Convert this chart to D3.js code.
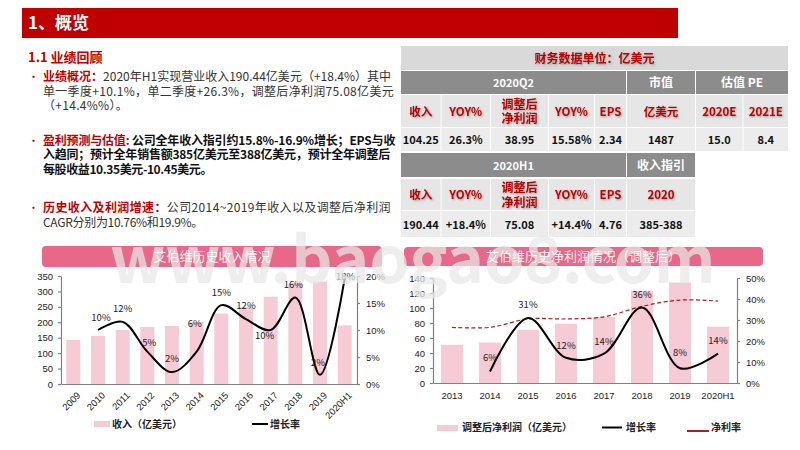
<!DOCTYPE html>
<html>
  <head>
    <meta charset="utf-8" />
    <script src="https://d3js.org/d3.v7.min.js"></script>
    <style>
html, body { margin: 0; padding: 0; background: #fff; }
svg { display: block; }
text { font-family: "Noto Sans CJK SC", "Noto Sans", sans-serif; }
.axis path, .axis line { stroke: #808080; stroke-width: 1.2px; }
.axis text { font-family: "Liberation Sans", sans-serif; font-size: 9.5px; fill: #222; }
.shadow { filter: drop-shadow(1px 1px 1px #999); }
    </style>
  </head>
  <body>
<div id="content"></div>
    <script>
// revenue chart
let revCats = ["2009","2010","2011","2012","2013","2014","2015","2016","2017","2018","2019","2020H1"];
let revValues = [143,156,175,185,188,201,228,250,283,327,332,190];
let revGrowth = [null,10,11.5,6,2.2,6,14.6,12,10,16,1.7,19.5];
let revGrowthLabels = ["","10%","12%","5%","2%","6%","15%","12%","10%","16%","2%","18%"];
let revTicks = [0,50,100,150,200,250,300,350];
let revPctTicks = [0,5,10,15,20];

// profit chart
let profCats = ["2013","2014","2015","2016","2017","2018","2019","2020H1"];
let profValues = [51,54,71,79,88,123,134,75];
let profGrowth = [null,5.5,31,12,14,36,7,14];
let profGrowthLabels = ["","6%","31%","12%","14%","36%","8%","14%"];
let profMargin = [26.5,26.5,30.5,30.5,31.5,36.5,39.5,39];
let profTicks = [0,20,40,60,80,100,120,140];
let profPctTicks = [0,10,20,30,40,50];

// table text
let tableTitle = "财务数据单位：亿美元";
let q2Heads = ["收入","YOY%",["调整后","净利润"],"YOY%","EPS","亿美元","2020E","2021E"];
let q2Vals = ["104.25","26.3%","38.95","15.58%","2.34","1487","15.0","8.4"];
let h1Heads = ["收入","YOY%",["调整后","净利润"],"YOY%","EPS","2020"];
let h1Vals = ["190.44","+18.4%","75.08","+14.4%","4.76","385-388"];

let RED = "#c00000", PINK = "#f6cbd6", BAND = "#e8688a";

let svg = d3.select("#content").append("svg").attr("width", 800).attr("height", 450);

// header
svg.append("rect").attr("x", 22).attr("y", 8).attr("width", 656).attr("height", 30).attr("fill", "#bf0000");
svg.append("text").attr("x", 28).attr("y", 29).attr("fill", "#fff")
	.attr("font-size", 17).attr("font-weight", "bold").text("1、概览");
svg.append("text").attr("x", 28).attr("y", 62).attr("fill", RED)
	.attr("font-size", 13).attr("font-weight", "bold").text("1.1 业绩回顾");

// left text block, each line is spaced out to end where it ends in the slide
function para(y, lead, lines, ends, bold) {
	svg.append("text").attr("x", 28).attr("y", y).attr("fill", RED).attr("font-size", 11).text("•");
	lines.forEach((l, i) => {
		let t = svg.append("text").attr("x", 43).attr("y", y + i * 14.5)
			.attr("font-size", 12).attr("fill", bold ? "#111" : "#333")
			.attr("font-weight", bold ? "bold" : "normal");
		if (i == 0) {
			t.append("tspan").attr("fill", RED).attr("font-weight", "bold").text(lead);
		}
		t.append("tspan").text(l);
		let n = t.text().length;
		let len = t.node().getComputedTextLength();
		t.attr("letter-spacing", (ends[i] - 43 - len) / n);
	});
}
para(81, "业绩概况：", ["2020年H1实现营业收入190.44亿美元（+18.4%）其中", "单一季度+10.1%，单二季度+26.3%，调整后净利润75.08亿美元", "（+14.4%%）。"], [391, 394, 128], false);
para(144.5, "盈利预测与估值:  ", ["公司全年收入指引约15.8%-16.9%增长；EPS与收", "入趋同；预计全年销售额385亿美元至388亿美元，预计全年调整后", "每股收益10.35美元-10.45美元。"], [395, 390, 212], true);
para(212, "历史收入及利润增速：", ["公司2014~2019年收入以及调整后净利润", "CAGR分别为10.76%和19.9%。"], [391, 203], false);

// table
let colX = [401,441.5,491,549,595,627,696,743.5,789];
function cell(c0, c1, y0, y1, fill) {
	svg.append("rect").attr("x", colX[c0]).attr("y", y0)
		.attr("width", colX[c1] - colX[c0] - 1).attr("height", y1 - y0 - 1).attr("fill", fill);
}
function cellText(c0, c1, y, txt, size, color, shadow) {
	let t = svg.append("text").attr("x", (colX[c0] + colX[c1]) / 2 - 0.5).attr("y", y)
		.attr("text-anchor", "middle").attr("font-size", size).attr("font-weight", "bold")
		.attr("fill", color).text(txt);
	if (shadow) t.attr("class", "shadow");
}
function headCells(y0, y1, heads) {
	heads.forEach((h, i) => {
		cell(i, i + 1, y0, y1, "#e6e6e6");
		if (Array.isArray(h)) {
			cellText(i, i + 1, (y0 + y1) / 2 - 3, h[0], 12, RED, true);
			cellText(i, i + 1, (y0 + y1) / 2 + 11.5, h[1], 12, RED, true);
		} else {
			cellText(i, i + 1, (y0 + y1) / 2 + 4, h, 11.5, RED, true);
		}
	});
}
function valCells(y0, y1, vals) {
	vals.forEach((v, i) => {
		cell(i, i + 1, y0, y1, "#ececec");
		cellText(i, i + 1, (y0 + y1) / 2 + 4, v, 11, "#111", false);
	});
}
cell(0, 8, 46, 71, "#d9d9d9");
cellText(0, 8, 63, tableTitle, 12, RED, true);
cell(0, 5, 71, 95, "#8c8c8c");
cell(5, 6, 71, 95, "#8c8c8c");
cell(6, 8, 71, 95, "#8c8c8c");
cellText(0, 5, 87, "2020Q2", 11, "#fff");
cellText(5, 6, 87, "市值", 12, "#fff");
cellText(6, 8, 87, "估值 PE", 12, "#fff");
headCells(95, 128, q2Heads);
valCells(128, 152, q2Vals);
cell(0, 5, 153, 178, "#8c8c8c");
cell(5, 6, 153, 178, "#8c8c8c");
cellText(0, 5, 170, "2020H1", 11, "#fff");
cellText(5, 6, 170, "收入指引", 12, "#fff");
headCells(179, 211, h1Heads);
valCells(211, 238, h1Vals);

// combo chart, bars on left axis and lines on right axis
function combo(o) {
	let g = svg.append("g");
	let x = d3.scaleBand().domain(o.cats).range([o.x0, o.x1]);
	let yL = d3.scaleLinear().domain([o.ticks[0], o.ticks[o.ticks.length - 1]]).range([o.y1, o.y0]);
	let yR = d3.scaleLinear().domain([o.pct[0], o.pct[o.pct.length - 1]]).range([o.y1, o.y0]);
	let mid = d => x(d) + x.bandwidth() / 2;

	g.selectAll("rect.bar").data(o.values).enter().append("rect").attr("class", "bar")
		.attr("x", (d, i) => mid(o.cats[i]) - o.barW / 2)
		.attr("width", o.barW)
		.attr("y", d => yL(d))
		.attr("height", d => o.y1 - yL(d))
		.attr("fill", PINK);

	let axB = g.append("g").attr("class", "axis").attr("transform", `translate(0,${o.y1})`)
		.call(d3.axisBottom(x).tickSize(0).tickPadding(o.rotate ? 8 : 9));
	if (o.rotate) {
		axB.selectAll("text").attr("text-anchor", "end")
			.attr("transform", "rotate(-45)").attr("dx", "-3px").attr("dy", "6px");
	}
	g.append("g").attr("class", "axis").attr("transform", `translate(${o.x0},0)`)
		.call(d3.axisLeft(yL).tickValues(o.ticks).tickSize(3).tickSizeOuter(0).tickPadding(5));
	g.append("g").attr("class", "axis").attr("transform", `translate(${o.x1},0)`)
		.call(d3.axisRight(yR).tickValues(o.pct).tickSize(3).tickSizeOuter(0).tickPadding(6).tickFormat(d => d + "%"));

	let curve = d3.line().defined(d => d[1] !== null)
		.x(d => mid(d[0])).y(d => yR(d[1]))
		.curve(d3.curveCatmullRom.alpha(0.5));

	if (o.margin) {
		g.append("path").attr("fill", "none").attr("stroke", "#b01c22").attr("stroke-width", 1.2)
			.attr("stroke-dasharray", "4,2.5")
			.attr("d", curve(o.cats.map((c, i) => [c, o.margin[i]])));
	}
	g.append("path").attr("fill", "none").attr("stroke", "#000").attr("stroke-width", 2)
		.attr("d", curve(o.cats.map((c, i) => [c, o.growth[i]]).filter(d => d[1] !== null)));

	g.selectAll("text.lab").data(o.labels).enter().append("text").attr("class", "lab")
		.attr("x", (d, i) => mid(o.cats[i]) + o.labOff[i][0])
		.attr("y", (d, i) => (o.growth[i] === null ? 0 : yR(o.growth[i])) + o.labOff[i][1] + 3)
		.attr("text-anchor", "middle")
		.attr("font-family", "Liberation Sans, sans-serif")
		.attr("font-size", 9.5).attr("fill", "#222").text(d => d);
}

combo({
	cats: revCats, values: revValues, growth: revGrowth, labels: revGrowthLabels,
	ticks: revTicks, pct: revPctTicks, rotate: true,
	x0: 61, x1: 357, y0: 276, y1: 384, barW: 14,
	labOff: [[0,0],[3,-12],[0,-13],[2,-8.6],[0,-13],[-2,-27.6],[0,-12],[0,-13],[-6,6],[-2,-12.6],[-2,-12],[1,-2]]
});
combo({
	cats: profCats, values: profValues, growth: profGrowth, margin: profMargin, labels: profGrowthLabels,
	ticks: profTicks, pct: profPctTicks, rotate: false,
	x0: 433, x1: 737, y0: 278, y1: 383, barW: 22,
	labOff: [[0,0],[0,-13],[0,-13],[0,-12],[0,-12],[0,-12],[0,-15],[0,-12.5]]
});

// chart title bands go under the watermark, their text over it
function band(x, y, w, h) {
	svg.append("rect").attr("x", x).attr("y", y).attr("width", w).attr("height", h).attr("rx", 4).attr("fill", BAND);
}
function bandText(x, y, w, h, txt) {
	svg.append("text").attr("x", x + w / 2).attr("y", y + h / 2 + 4.5).attr("text-anchor", "middle")
		.attr("font-size", 13).attr("fill", "#fff").attr("fill-opacity", 0.9).text(txt);
}
band(42, 246, 340, 21);
band(404, 247, 359, 19);

// watermark
svg.append("text").attr("x", 110).attr("y", 283)
	.attr("font-family", "Liberation Sans, sans-serif").attr("font-size", 64).attr("font-weight", "bold")
	.attr("fill", "#e8e8e8").attr("fill-opacity", 0.72).text("www.baogao8.com");

bandText(42, 246, 340, 21, "艾伯维历史收入情况");
bandText(404, 247, 359, 19, "艾伯维历史净利润情况（调整后）");

// legends
function legText(x, y, txt) {
	svg.append("text").attr("x", x).attr("y", y).attr("font-size", 10).attr("font-weight", "bold")
		.attr("fill", "#222").text(txt);
}
function legLine(x0, x1, y, color, w) {
	svg.append("line").attr("x1", x0).attr("x2", x1).attr("y1", y).attr("y2", y).attr("stroke", color).attr("stroke-width", w);
}
svg.append("rect").attr("x", 94).attr("y", 421).attr("width", 16).attr("height", 6).attr("fill", PINK);
legText(112, 428, "收入（亿美元）");
legLine(252, 268, 424, "#000", 2);
legText(270, 428, "增长率");
svg.append("rect").attr("x", 437).attr("y", 425).attr("width", 21).attr("height", 6).attr("fill", PINK);
legText(462, 431, "调整后净利润（亿美元）");
legLine(602, 622, 427.5, "#000", 2);
legText(626, 431, "增长率");
legLine(687, 709, 431, "#b01c22", 2);
legText(711, 431, "净利率");
</script>
  </body>
</html>
